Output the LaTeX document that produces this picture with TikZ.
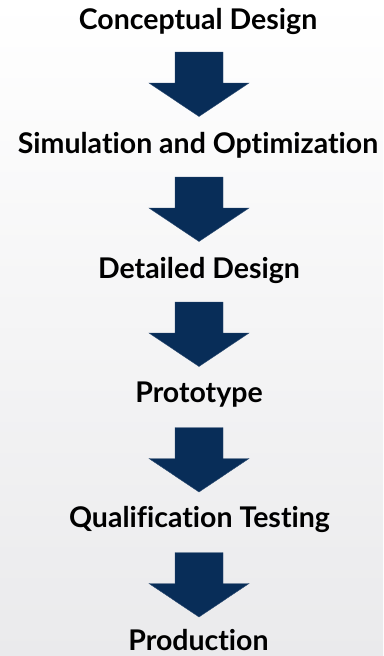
\documentclass[tikz,border=0pt]{standalone}
\usepackage{fontspec}
\setmainfont{Lato}[Ligatures={NoCommon}]
\definecolor{navy}{HTML}{082D58}
\definecolor{bgbot}{RGB}{234,234,236}
\tikzset{
  lbl/.style={font=\bfseries\fontsize{28.5}{34}\selectfont, text=black, inner sep=0pt, anchor=base},
  darrow/.pic={
    \fill[navy, draw=navy!85!white, line width=0.4pt]
      (-24,0) -- (24,0) -- (24,31) -- (50,31) -- (0,64.5) -- (-50,31) -- (-24,31) -- cycle;
  }
}
\begin{document}
\begin{tikzpicture}[x=1pt, y=-1pt]
  \shade[top color=white, bottom color=bgbot] (0,0) rectangle (383,656);
  \useasboundingbox (0,0) rectangle (383,656);
  \node[lbl] (t1) at (198,29) {Conceptual Design};
  \node[lbl] (t2) at (198,153.5) {Simulation and Optimization};
  \node[lbl] (t3) at (199,278) {Detailed Design};
  \node[lbl] (t4) at (199,402.5) {Prototype};
  \node[lbl] (t5) at (199.5,527) {Qualification Testing};
  \node[lbl] (t6) at (198.5,650.5) {Production};
  \pic at (199,52) {darrow};
  \pic at (199,177) {darrow};
  \pic at (199,302) {darrow};
  \pic at (199,427.5) {darrow};
  \pic at (199,552.5) {darrow};
\end{tikzpicture}
\end{document}
